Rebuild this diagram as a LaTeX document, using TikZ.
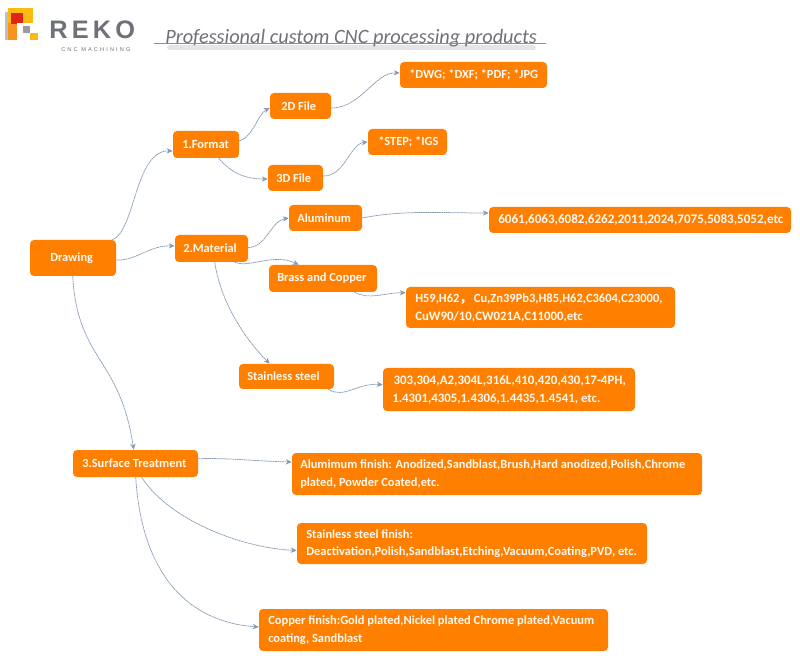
\documentclass[tikz,border=0pt]{standalone}
\usepackage{fontspec}
\setmainfont{Carlito}
\newfontfamily\logofont{Liberation Sans}
\newfontfamily\logosub[LetterSpace=38]{Liberation Sans}
\newfontfamily\cjkfont{Noto Sans CJK SC}
\usetikzlibrary{calc,arrows.meta}
\definecolor{boxorange}{HTML}{FF7F00}
\definecolor{linkblue}{HTML}{8599B5}
\definecolor{logogrey}{HTML}{6E7178}
\definecolor{logoorange}{HTML}{F7941D}
\definecolor{logoyellow}{HTML}{FDB913}
\definecolor{logored}{HTML}{E2231A}
\tikzset{
  x=0.75pt,y=-0.75pt,
  box/.style={fill=boxorange,rounded corners=3pt,inner sep=0pt},
  lab/.style={font=\fontsize{9.3}{13.5}\selectfont\bfseries,text=white!96!orange,inner sep=0pt,align=left,anchor=west},
  link/.style={draw=linkblue,line width=0.55pt,dash pattern=on 1.3pt off 0.4pt,-{Stealth[length=4.5pt,width=4pt]}},
}
\newcommand{\bx}[7]{%
  \path[box] (#2,#3) rectangle (#4,#5);
  \node[minimum width={(#4-#2)*0.75pt},minimum height={(#5-#3)*0.75pt},inner sep=0pt] (#1) at ({(#2+#4)/2},{(#3+#5)/2}) {};
  \node[lab] (#1 text) at (#6,{(#3+#5)/2}) {#7};
}
\newcommand{\szA}{\fontsize{9.8}{13.5}\selectfont}
\newcommand{\szB}{\fontsize{9.35}{13.5}\selectfont}
\newcommand{\szC}{\fontsize{9.6}{13.5}\selectfont}
\begin{document}
\begin{tikzpicture}
\useasboundingbox (0,0) rectangle (800,659);
% logo
\fill[logogrey!45] (5,12) rectangle (10,40);
\fill[logoorange] (8,8) rectangle (17,40);
\fill[logoyellow] (8,8) rectangle (33,23);
\fill[logored] (11,13) rectangle (23,23);
\fill[logored] (11,13) rectangle (17,24);
\fill[logogrey!70] (23,26) rectangle (30,33);
\fill[logoyellow] (30,33) rectangle (38,40);
\node[font=\logofont\bfseries\fontsize{19}{19}\selectfont,text=logogrey,inner sep=0pt,anchor=west] (logo) at (49,30) {R\,E\,K\,O};
\node[font=\logosub\fontsize{4.2}{4.2}\selectfont,text=logogrey,inner sep=0pt,anchor=west] (sub) at (61,50) {CNC MACHINING};
% title
\fill[logogrey!18,rounded corners=2pt] (167,45) rectangle (536,50);
\coordinate (ruleL) at (154,43.5);
\coordinate (ruleR) at (546,43.5);
\node[font=\itshape\fontsize{15.25}{15.25}\selectfont,text=logogrey,inner sep=0pt,anchor=west] (title) at (165,38.5) {Professional custom CNC processing products};
\draw[logogrey!80,line width=0.5pt] (ruleL) -- (ruleR);
% boxes
\bx{draw}{30}{240}{116}{276}{50}{Drawing}
\bx{fmt}{173}{131}{239}{158}{182}{1.Format}
\bx{mat}{175}{235}{248}{262}{183}{2.Material}
\bx{surf}{73}{450}{198}{477}{82}{3.Surface Treatment}
\bx{twod}{270}{93}{331}{119}{281}{2D File}
\bx{thrd}{268}{165}{323}{191}{276}{3D File}
\bx{dwg}{400}{62}{547}{88}{409}{*DWG; *DXF; *PDF; *JPG}
\bx{step}{368}{129}{447}{155}{378}{*STEP; *IGS}
\bx{alu}{289}{205}{362}{231}{297}{Aluminum}
\bx{alul}{489}{207}{791}{233}{498}{\szA 6061,6063,6082,6262,2011,2024,7075,5083,5052,etc}
\bx{brass}{269}{265}{377}{292}{277}{Brass and Copper}
\bx{brl}{406}{287}{675}{328}{415}{\szB H59,H62{\cjkfont ，}\hspace{1.5pt}Cu,Zn39Pb3,H85,H62,C3604,C23000,\\\szC CuW90/10,CW021A,C11000,etc}
\bx{ss}{239}{364}{334}{389}{247}{Stainless steel}
\bx{ssl}{383}{368}{635}{411}{392}{\fontsize{9.7}{13.5}\selectfont\hspace{1pt}303,304,A2,304L,316L,410,420,430,17-4PH,\\\szC 1.4301,4305,1.4306,1.4435,1.4541, etc.}
\bx{af}{292}{453}{702}{495}{300}{Alumimum finish: Anodized,Sandblast,Brush,Hard anodized,Polish,Chrome\\plated, Powder Coated,etc.}
\bx{sf}{297}{523}{647}{564}{306}{Stainless steel finish:\\[-1pt]{\szB Deactivation,Polish,Sandblast,Etching,Vacuum,Coating,PVD, etc.}}
\bx{cf}{259}{609}{608}{651}{268}{{\szB Copper finish:Gold plated,Nickel plated Chrome plated,Vacuum}\\coating, Sandblast}
% links
\draw[link] ($(draw.north east)+(-4,0)$) .. controls +(23,-8) and +(-38,-1) .. ($(fmt.west)+(0,6.5)$);
\draw[link] ($(draw.east)+(0,2)$) .. controls +(20,1) and +(-25,-1) .. ($(mat.west)+(0,-2.5)$);
\draw[link] ($(draw.south west)+(43,0)$) .. controls +(5,85) and +(-14,-93) .. ($(surf.north west)+(61,0)$);
\draw[link] ($(fmt.east)+(0,-3.5)$) .. controls +(14,-4) and +(-12,6) .. ($(twod.west)+(0,2)$);
\draw[link] ($(fmt.south west)+(46,0)$) .. controls +(12,14) and +(-24,0) .. ($(thrd.west)+(0,1)$);
\draw[link] ($(twod.east)+(0,2)$) .. controls +(30,0) and +(-25,-1) .. ($(dwg.west)+(0,-2)$);
\draw[link] ($(thrd.east)+(0,-2)$) .. controls +(22,0) and +(-18,2) .. (step.west);
\draw[link] ($(mat.east)+(0,-1)$) .. controls +(18,0) and +(-18,3) .. (alu.west);
\draw[link] (alu.east) .. controls +(40,-8) and +(-50,0) .. ($(alul.west)+(0,-7)$);
\draw[link] ($(mat.south west)+(60,0)$) .. controls +(15,6) and +(-25,-12) .. ($(brass.north west)+(30,0)$);
\draw[link] ($(mat.south west)+(40,0)$) .. controls +(6,40) and +(-25,-25) .. ($(ss.north west)+(31,0)$);
\draw[link] ($(brass.south west)+(86,0)$) .. controls +(15,8) and +(-22,0) .. ($(brl.north west)+(0,6)$);
\draw[link] ($(ss.south east)+(-6,0)$) .. controls +(15,10) and +(-25,-2) .. ($(ssl.north west)+(0,17)$);
\draw[link] ($(surf.north east)+(0,9)$) .. controls +(30,-1) and +(-40,-1) .. ($(af.west)+(0,-12)$);
\draw[link] ($(surf.south west)+(69,0)$) .. controls +(25,40) and +(-60,-3) .. ($(sf.west)+(0,7)$);
\draw[link] ($(surf.south west)+(63,0)$) .. controls +(6,98) and +(-70,-5) .. ($(cf.west)+(0,-3)$);
\end{tikzpicture}
\end{document}
